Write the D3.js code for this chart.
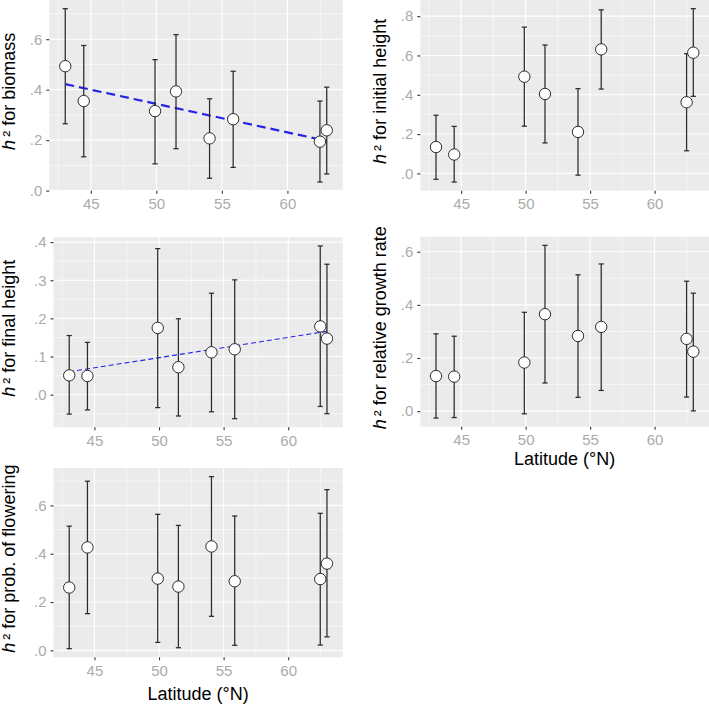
<!DOCTYPE html>
<html>
<head>
<meta charset="utf-8">
<script src="https://cdn.jsdelivr.net/npm/d3@7"></script>
<style>
  html, body { margin: 0; padding: 0; background: #fff; }
  svg { display: block; font-family: "Liberation Sans", Arial, Helvetica, sans-serif; }
</style>
</head>
<body>
<svg id="chart" width="709" height="704"></svg>
<script>
// ---------------- data ----------------
const latitude = [43.05, 44.46, 49.9, 51.5, 54.06, 55.86, 62.48, 63.0];
const xTicks = [45, 50, 55, 60];

const biomass   = [0.493, 0.355, 0.315, 0.393, 0.207, 0.283, 0.194, 0.239];
const biomassLo = [0.265, 0.134, 0.106, 0.166, 0.049, 0.092, 0.034, 0.066];
const biomassHi = [0.721, 0.575, 0.519, 0.618, 0.364, 0.473, 0.355, 0.410];
const biomassFit = [0.422, 0.197];            // fitted h² at min / max latitude
const biomassTicks = [0, 0.2, 0.4, 0.6];

const initialHeight   = [0.134, 0.096, 0.492, 0.404, 0.211, 0.631, 0.362, 0.614];
const initialHeightLo = [-0.030, -0.044, 0.240, 0.155, -0.009, 0.429, 0.115, 0.392];
const initialHeightHi = [0.296, 0.239, 0.744, 0.653, 0.431, 0.832, 0.609, 0.838];
const initialHeightTicks = [0, 0.2, 0.4, 0.6, 0.8];

const finalHeight   = [0.0505, 0.049, 0.175, 0.072, 0.111, 0.119, 0.179, 0.147];
const finalHeightLo = [-0.051, -0.040, -0.034, -0.056, -0.045, -0.063, -0.031, -0.050];
const finalHeightHi = [0.155, 0.137, 0.383, 0.199, 0.266, 0.301, 0.390, 0.342];
const finalHeightFit = [0.060, 0.166];
const finalHeightTicks = [0, 0.1, 0.2, 0.3, 0.4];

const growthRate   = [0.132, 0.130, 0.183, 0.365, 0.283, 0.317, 0.272, 0.224];
const growthRateLo = [-0.026, -0.024, -0.010, 0.106, 0.052, 0.078, 0.053, 0.001];
const growthRateHi = [0.291, 0.282, 0.372, 0.624, 0.513, 0.554, 0.489, 0.444];
const growthRateTicks = [0, 0.2, 0.4, 0.6];

const flowering   = [0.260, 0.426, 0.297, 0.264, 0.430, 0.286, 0.295, 0.359];
const floweringLo = [0.007, 0.152, 0.033, 0.011, 0.141, 0.021, 0.022, 0.056];
const floweringHi = [0.514, 0.700, 0.563, 0.517, 0.719, 0.556, 0.567, 0.665];
const floweringTicks = [0, 0.2, 0.4, 0.6];

const yLabels = ["for biomass", "for initial height", "for final height",
                 "for relative growth rate", "for prob. of flowering"];
const xTitle = "Latitude (°N)";

// ---------------- layout ----------------
const panels = [
  {val: biomass, lo: biomassLo, hi: biomassHi, fit: biomassFit, ticks: biomassTicks, label: yLabels[0],
   box: [49.3, 342.7, 0, 190.7], titleX: 15, fitW: 2.2, fitDash: "9,5", xTitleOff: null},
  {val: initialHeight, lo: initialHeightLo, hi: initialHeightHi, fit: null, ticks: initialHeightTicks, label: yLabels[1],
   box: [420.3, 709, 0, 190.7], titleX: 386, xTitleOff: null},
  {val: finalHeight, lo: finalHeightLo, hi: finalHeightHi, fit: finalHeightFit, ticks: finalHeightTicks, label: yLabels[2],
   box: [53.5, 342.7, 237.3, 427.3], titleX: 15, fitW: 1.1, fitDash: "5,3", xTitleOff: null},
  {val: growthRate, lo: growthRateLo, hi: growthRateHi, fit: null, ticks: growthRateTicks, label: yLabels[3],
   box: [420.3, 709, 236.7, 426.7], titleX: 386, xTitleOff: 38},
  {val: flowering, lo: floweringLo, hi: floweringHi, fit: null, ticks: floweringTicks, label: yLabels[4],
   box: [53.5, 342.7, 468, 657.3], titleX: 15, xTitleOff: 42.3}
];

const capHalf = 0.2;  // errorbar cap half-width in latitude units
const svg = d3.select("#chart");

function expand(lo, hi) { const p = (hi - lo) * 0.05; return [lo - p, hi + p]; }

panels.forEach(p => {
  const [x0, x1, y0, y1] = p.box;
  const xDom = expand(d3.min(latitude) - capHalf, d3.max(latitude) + capHalf);
  const yDom = expand(d3.min(p.lo), d3.max(p.hi));
  const x = d3.scaleLinear().domain(xDom).range([x0, x1]);
  const y = d3.scaleLinear().domain(yDom).range([y1, y0]);
  const g = svg.append("g");

  // panel background
  g.append("rect").attr("x", x0).attr("y", y0).attr("width", x1 - x0).attr("height", y1 - y0)
    .attr("fill", "#EBEBEB");

  // minor grid
  const xStep = xTicks[1] - xTicks[0];
  const xMinor = [xTicks[0] - xStep, ...xTicks].map(t => t + xStep / 2)
    .filter(t => t > xDom[0] && t < xDom[1]);
  const yStep = p.ticks[1] - p.ticks[0];
  const yMinor = [p.ticks[0] - yStep, ...p.ticks].map(t => t + yStep / 2)
    .filter(t => t > yDom[0] && t < yDom[1]);
  g.selectAll(".xmin").data(xMinor).join("line")
    .attr("x1", d => x(d)).attr("x2", d => x(d)).attr("y1", y0).attr("y2", y1)
    .attr("stroke", "#fff").attr("stroke-width", 0.55);
  g.selectAll(".ymin").data(yMinor).join("line")
    .attr("x1", x0).attr("x2", x1).attr("y1", d => y(d)).attr("y2", d => y(d))
    .attr("stroke", "#fff").attr("stroke-width", 0.55);
  // major grid
  g.selectAll(".xmaj").data(xTicks).join("line")
    .attr("x1", d => x(d)).attr("x2", d => x(d)).attr("y1", y0).attr("y2", y1)
    .attr("stroke", "#fff").attr("stroke-width", 1.1);
  g.selectAll(".ymaj").data(p.ticks).join("line")
    .attr("x1", x0).attr("x2", x1).attr("y1", d => y(d)).attr("y2", d => y(d))
    .attr("stroke", "#fff").attr("stroke-width", 1.1);

  // axes
  const fmt = d => d3.format(".1f")(d).replace(/^0/, "").replace(/^-0/, "-");
  const ax = g.append("g").attr("transform", `translate(${x0},0)`)
    .call(d3.axisLeft(y).tickValues(p.ticks).tickFormat(fmt).tickSize(3).tickPadding(4));
  const bx = g.append("g").attr("transform", `translate(0,${y1})`)
    .call(d3.axisBottom(x).tickValues(xTicks).tickSize(3).tickPadding(4));
  [ax, bx].forEach(a => {
    a.select(".domain").remove();
    a.selectAll(".tick line").attr("stroke", "#333").attr("stroke-width", 1.1);
    a.selectAll(".tick text").attr("fill", "#ABABAB").style("font-size", "15px")
      .style("font-family", '"Liberation Sans", Arial, sans-serif');
  });
  bx.selectAll(".tick text").attr("dy", "0.76em");

  // regression line
  if (p.fit) {
    const ext = d3.extent(latitude);
    g.append("line")
      .attr("x1", x(ext[0])).attr("y1", y(p.fit[0]))
      .attr("x2", x(ext[1])).attr("y2", y(p.fit[1]))
      .attr("stroke", "#2424E6").attr("stroke-width", p.fitW)
      .attr("stroke-dasharray", p.fitDash);
  }

  // error bars + points
  const rows = latitude.map((lat, i) => ({lat, v: p.val[i], lo: p.lo[i], hi: p.hi[i]}));
  const eb = g.selectAll(".eb").data(rows).join("g").attr("stroke", "#2b2b2b").attr("stroke-width", 1.25);
  eb.append("line").attr("x1", d => x(d.lat)).attr("x2", d => x(d.lat))
    .attr("y1", d => y(d.lo)).attr("y2", d => y(d.hi));
  eb.append("line").attr("x1", d => x(d.lat - capHalf)).attr("x2", d => x(d.lat + capHalf))
    .attr("y1", d => y(d.lo)).attr("y2", d => y(d.lo));
  eb.append("line").attr("x1", d => x(d.lat - capHalf)).attr("x2", d => x(d.lat + capHalf))
    .attr("y1", d => y(d.hi)).attr("y2", d => y(d.hi));
  g.selectAll(".pt").data(rows).join("circle")
    .attr("cx", d => x(d.lat)).attr("cy", d => y(d.v)).attr("r", 5.7)
    .attr("fill", "#fff").attr("stroke", "#2b2b2b").attr("stroke-width", 1);

  // y title
  const cy = (y0 + y1) / 2 - 4;
  const t = svg.append("text")
    .attr("transform", `translate(${p.titleX},${cy}) rotate(-90)`)
    .attr("text-anchor", "middle").attr("fill", "#000").style("font-size", "18px");
  t.append("tspan").attr("font-style", "italic").text("h");
  t.append("tspan").attr("dx", 3).text("²");
  t.append("tspan").text(" " + p.label);

  // x title
  if (p.xTitleOff !== null) {
    svg.append("text").attr("x", (x0 + x1) / 2).attr("y", y1 + p.xTitleOff)
      .attr("text-anchor", "middle").attr("fill", "#000").style("font-size", "18px")
      .text(xTitle);
  }
});
</script>
</body>
</html>
